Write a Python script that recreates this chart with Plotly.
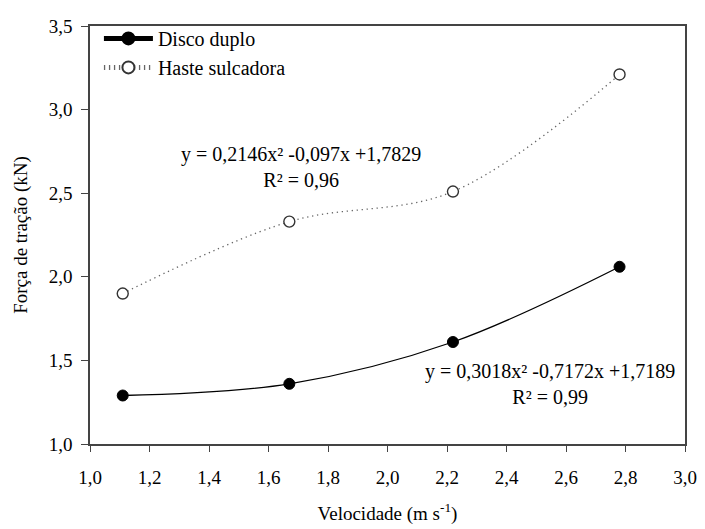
import plotly.graph_objects as go

velocidade = [1.11, 1.67, 2.22, 2.78]
disco_duplo = [1.29, 1.36, 1.61, 2.06]
haste_sulcadora = [1.90, 2.33, 2.51, 3.21]

x_ticks = [1.0, 1.2, 1.4, 1.6, 1.8, 2.0, 2.2, 2.4, 2.6, 2.8, 3.0]
x_tick_labels = ["1,0", "1,2", "1,4", "1,6", "1,8", "2,0", "2,2", "2,4", "2,6", "2,8", "3,0"]
y_ticks = [1.0, 1.5, 2.0, 2.5, 3.0, 3.5]
y_tick_labels = ["1,0", "1,5", "2,0", "2,5", "3,0", "3,5"]

F = "Liberation Serif, Times New Roman, serif"
axis_color = "#444444"

fig = go.Figure()
fig.add_trace(go.Scatter(
    x=velocidade, y=disco_duplo, name="Disco duplo",
    mode="lines+markers",
    line=dict(color="black", width=1.3, shape="spline", smoothing=1.0),
    marker=dict(symbol="circle", size=11, color="black", line=dict(color="black", width=1)),
))
fig.add_trace(go.Scatter(
    x=velocidade, y=haste_sulcadora, name="Haste sulcadora",
    mode="lines+markers",
    line=dict(color="#666666", width=1.3, dash="1.3px,3.7px", shape="spline", smoothing=1.0),
    marker=dict(symbol="circle", size=11, color="white", line=dict(color="#333333", width=1.4)),
))

fig.add_annotation(x=1.71, y=2.655, xref="x", yref="y",
                   text="y = 0,2146x² -0,097x +1,7829<br>R² = 0,96",
                   showarrow=False, font=dict(family=F, size=20, color="black"),
                   align="center")
fig.add_annotation(x=2.545, y=1.356, xref="x", yref="y",
                   text="y = 0,3018x² -0,7172x +1,7189<br>R² = 0,99",
                   showarrow=False, font=dict(family=F, size=20, color="black"),
                   align="center")

fig.update_layout(
    width=697, height=521,
    margin=dict(l=82, r=15, t=8, b=85),
    paper_bgcolor="white", plot_bgcolor="white",
    font=dict(family=F, size=19, color="black"),
    showlegend=True,
    legend=dict(x=0.015, y=1.017, xanchor="left", yanchor="top",
                bgcolor="rgba(0,0,0,0)", font=dict(family=F, size=20, color="black"),
                tracegroupgap=0, itemsizing="constant", itemwidth=49),
    xaxis=dict(range=[1.0, 3.0], tickmode="array", tickvals=x_ticks, ticktext=x_tick_labels,
               ticks="outside", ticklen=6, tickcolor=axis_color, tickwidth=1.2,
               ticklabelstandoff=9,
               showline=True, linecolor=axis_color, linewidth=1.5, mirror=True,
               showgrid=False, zeroline=False,
               title=dict(text="Velocidade (m s<sup>-1</sup>)", font=dict(family=F, size=19, color="black"), standoff=20),
               tickfont=dict(family=F, size=19, color="black")),
    yaxis=dict(range=[1.0, 3.5], tickmode="array", tickvals=y_ticks, ticktext=y_tick_labels,
               ticks="outside", ticklen=7, tickcolor=axis_color, tickwidth=1.2,
               ticklabelstandoff=5,
               showline=True, linecolor=axis_color, linewidth=1.5, mirror=True,
               showgrid=False, zeroline=False,
               title=dict(text="Força de tração (kN)", font=dict(family=F, size=19, color="black"), standoff=16),
               tickfont=dict(family=F, size=19, color="black")),
)

fig.write_html("out.html")
